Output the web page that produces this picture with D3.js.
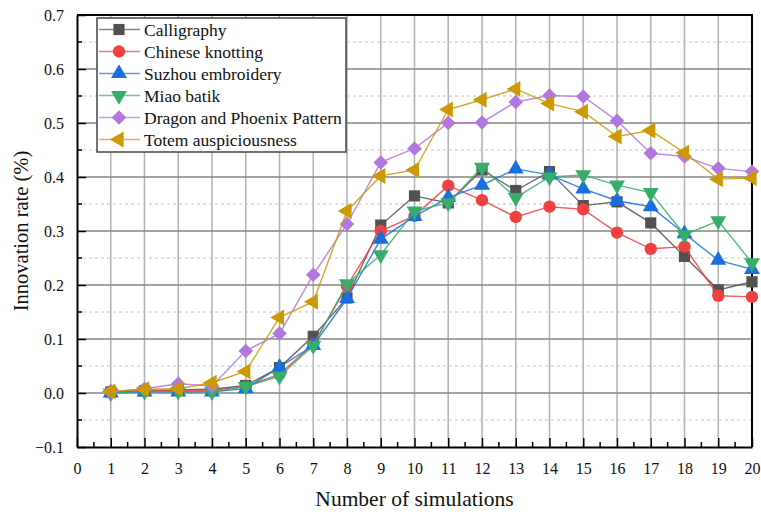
<!DOCTYPE html>
<html>
<head>
<meta charset="utf-8">
<script src="https://cdn.jsdelivr.net/npm/d3@7"></script>
<style>
  html, body { margin: 0; padding: 0; background: #fff; }
  svg text { font-family: "Liberation Serif", "DejaVu Serif", serif; fill: #111; }
</style>
</head>
<body>
<svg id="chart" width="761" height="512"></svg>
<script>
// simulation index 1..20
const simulations = d3.range(1, 21);

const seriesNames = [
  'Calligraphy',
  'Chinese knotting',
  'Suzhou embroidery',
  'Miao batik',
  'Dragon and Phoenix Pattern',
  'Totem auspiciousness'
];

const calligraphy = [0.002, 0.004, 0.006, 0.007, 0.014, 0.047, 0.105, 0.176, 0.311, 0.365,
  0.352, 0.413, 0.375, 0.410, 0.347, 0.354, 0.315, 0.253, 0.191, 0.206];
const chineseKnotting = [0.003, 0.005, 0.004, 0.005, 0.012, 0.035, 0.090, 0.198, 0.300, 0.328,
  0.384, 0.357, 0.326, 0.345, 0.340, 0.297, 0.267, 0.271, 0.180, 0.178];
const suzhouEmbroidery = [0.000, 0.002, 0.002, 0.002, 0.008, 0.048, 0.088, 0.175, 0.285, 0.327,
  0.362, 0.385, 0.415, 0.404, 0.378, 0.356, 0.345, 0.295, 0.246, 0.229];
const miaoBatik = [0.000, 0.003, 0.003, 0.002, 0.012, 0.031, 0.088, 0.202, 0.256, 0.337,
  0.352, 0.418, 0.362, 0.400, 0.404, 0.385, 0.371, 0.293, 0.319, 0.241];
const dragonPhoenix = [0.002, 0.008, 0.017, 0.013, 0.078, 0.110, 0.219, 0.313, 0.427, 0.453,
  0.500, 0.501, 0.539, 0.551, 0.549, 0.504, 0.444, 0.438, 0.416, 0.410];
const totem = [0.003, 0.007, 0.008, 0.019, 0.040, 0.140, 0.169, 0.337, 0.402, 0.413,
  0.525, 0.543, 0.563, 0.536, 0.521, 0.475, 0.486, 0.445, 0.396, 0.398];

const xTicks = d3.range(0, 21);
const yTicks = [-0.1, 0.0, 0.1, 0.2, 0.3, 0.4, 0.5, 0.6, 0.7];

const colors = ['#515151', '#F14040', '#1A6FDF', '#37AD6B', '#B177DE', '#CC9900'];

const seriesValues = [calligraphy, chineseKnotting, suzhouEmbroidery, miaoBatik, dragonPhoenix, totem];

// marker shape per series: symbol type + rotation
const markers = [
  { type: d3.symbolSquare, size: 125, rotate: 0 },
  { type: d3.symbolCircle, size: 120, rotate: 0 },
  { type: d3.symbolTriangle, size: 110, rotate: 0 },
  { type: d3.symbolTriangle, size: 110, rotate: 180 },
  { type: d3.symbolSquare, size: 105, rotate: 45 },
  { type: d3.symbolTriangle, size: 110, rotate: -90 }
];

const svg = d3.select('#chart');
const margin = { left: 77, right: 9, top: 15, bottom: 65 };
const width = 761, height = 512;

const x = d3.scaleLinear().domain([0, 20]).range([margin.left, width - margin.right]);
const y = d3.scaleLinear().domain([-0.1, 0.7]).range([height - margin.bottom, margin.top]);

const plotLeft = x(0), plotRight = x(20), plotTop = y(0.7), plotBottom = y(-0.1);

// grid
const grid = svg.append('g');
grid.selectAll('line.vgrid')
  .data(xTicks.filter(d => d > 0 && d < 20))
  .join('line')
  .attr('x1', d => x(d)).attr('x2', d => x(d))
  .attr('y1', plotTop).attr('y2', plotBottom)
  .attr('stroke', '#b4b4b4')
  .attr('stroke-width', 1.6);

grid.selectAll('line.minor')
  .data(d3.range(-0.05, 0.7, 0.1))
  .join('line')
  .attr('x1', plotLeft).attr('x2', plotRight)
  .attr('y1', d => y(d)).attr('y2', d => y(d))
  .attr('stroke', '#c4c4c4')
  .attr('stroke-width', 1)
  .attr('stroke-dasharray', '3,3');

grid.selectAll('line.hgrid')
  .data(yTicks.filter(d => d > -0.1 && d < 0.7))
  .join('line')
  .attr('class', 'hgrid')
  .attr('x1', plotLeft).attr('x2', plotRight)
  .attr('y1', d => y(d)).attr('y2', d => y(d))
  .attr('stroke', '#858585')
  .attr('stroke-width', 1.3);

// axes with ticks pointing inward
const xAxis = d3.axisBottom(x).tickValues(xTicks).tickFormat(d3.format('d')).tickSizeInner(-9).tickSizeOuter(0).tickPadding(16);
const yAxis = d3.axisLeft(y).tickValues(yTicks).tickFormat(d3.format('.1f')).tickSizeInner(-9).tickSizeOuter(0).tickPadding(13);

const gx = svg.append('g').attr('transform', `translate(0,${plotBottom})`).call(xAxis);
const gy = svg.append('g').attr('transform', `translate(${plotLeft},0)`).call(yAxis);

[gx, gy].forEach(g => {
  g.select('.domain').attr('stroke', '#000').attr('stroke-width', 2);
  g.selectAll('.tick line').attr('stroke', '#000').attr('stroke-width', 1.5);
  g.selectAll('.tick text').attr('font-size', 16).attr('fill', '#111')
    .style('font-family', '"Liberation Serif", serif');
});
gy.selectAll('.tick text').text(d => d === 0 ? '0.0' : d3.format('.1f')(d));

// minor ticks
svg.append('g').selectAll('line')
  .data(d3.range(0.5, 20, 1))
  .join('line')
  .attr('x1', d => x(d)).attr('x2', d => x(d))
  .attr('y1', plotBottom).attr('y2', plotBottom - 5)
  .attr('stroke', '#000').attr('stroke-width', 1.5);
svg.append('g').selectAll('line')
  .data(d3.range(-0.05, 0.7, 0.1))
  .join('line')
  .attr('x1', plotLeft).attr('x2', plotLeft + 5)
  .attr('y1', d => y(d)).attr('y2', d => y(d))
  .attr('stroke', '#000').attr('stroke-width', 1.5);

// top and right frame
svg.append('path')
  .attr('d', `M${plotLeft},${plotTop}H${plotRight}V${plotBottom}`)
  .attr('fill', 'none').attr('stroke', '#000').attr('stroke-width', 2);

// series
const line = d3.line().x((d, i) => x(simulations[i])).y(d => y(d));

seriesValues.forEach((vals, s) => {
  const g = svg.append('g');
  g.append('path')
    .datum(vals)
    .attr('d', line)
    .attr('fill', 'none')
    .attr('stroke', colors[s])
    .attr('stroke-opacity', 0.85)
    .attr('stroke-width', 1.4);

  const m = markers[s];
  g.selectAll('path.mk')
    .data(vals)
    .join('path')
    .attr('class', 'mk')
    .attr('d', d3.symbol().type(m.type).size(m.size))
    .attr('transform', (d, i) => `translate(${x(simulations[i])},${y(d)}) rotate(${m.rotate})`)
    .attr('fill', colors[s]);
});

// legend
const legend = svg.append('g').attr('transform', 'translate(97,18)');
legend.append('rect')
  .attr('width', 249).attr('height', 134)
  .attr('fill', '#fff').attr('stroke', '#444').attr('stroke-width', 1.5);

seriesNames.forEach((name, s) => {
  const row = legend.append('g').attr('transform', `translate(0,${11.5 + s * 22})`);
  row.append('line')
    .attr('x1', 2).attr('x2', 43)
    .attr('stroke', colors[s]).attr('stroke-opacity', 0.7).attr('stroke-width', 1.4);
  const m = markers[s];
  row.append('path')
    .attr('d', d3.symbol().type(m.type).size(m.size))
    .attr('transform', `translate(22,0) rotate(${m.rotate})`)
    .attr('fill', colors[s]);
  row.append('text')
    .attr('x', 47).attr('y', 6)
    .attr('font-size', 17.5)
    .text(name);
});

// axis titles
svg.append('text')
  .attr('x', (plotLeft + plotRight) / 2).attr('y', 506)
  .attr('text-anchor', 'middle')
  .attr('font-size', 21.5)
  .text('Number of simulations');

svg.append('text')
  .attr('transform', `translate(28,${(plotTop + plotBottom) / 2}) rotate(-90)`)
  .attr('text-anchor', 'middle')
  .attr('font-size', 20.5)
  .text('Innovation rate (%)');
</script>
</body>
</html>
